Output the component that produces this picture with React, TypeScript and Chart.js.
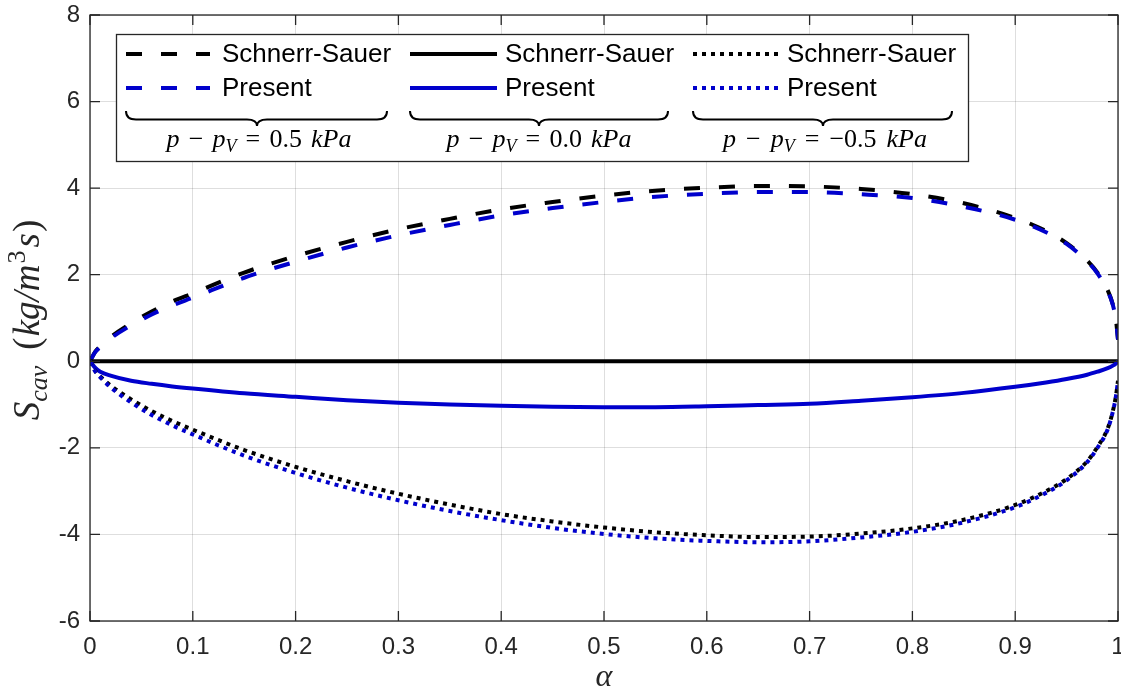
import React, { useEffect, useRef } from "react";
import { Chart, registerables } from "chart.js";

Chart.register(...registerables);

// ---- data ----
const alpha = [0, 0.005, 0.01, 0.02, 0.04, 0.06, 0.08, 0.1, 0.15, 0.2, 0.25, 0.3, 0.35, 0.4, 0.45, 0.5, 0.55, 0.6, 0.65, 0.7, 0.75, 0.8, 0.85, 0.9, 0.93, 0.95, 0.97, 0.98, 0.99, 0.995, 0.998, 1.0];

// p - pV = 0.5 kPa (dashed)
const schnerrSauerPos = [0, 0.22, 0.35, 0.56, 0.88, 1.15, 1.38, 1.57, 2.05, 2.43, 2.76, 3.05, 3.29, 3.51, 3.68, 3.83, 3.94, 4.01, 4.05, 4.04, 3.98, 3.86, 3.65, 3.31, 3.01, 2.73, 2.33, 2.05, 1.64, 1.31, 0.96, 0.5];
const presentPos = [0, 0.21, 0.33, 0.53, 0.83, 1.08, 1.29, 1.47, 1.93, 2.30, 2.63, 2.91, 3.15, 3.37, 3.54, 3.68, 3.80, 3.87, 3.91, 3.91, 3.86, 3.77, 3.57, 3.27, 2.98, 2.71, 2.31, 2.03, 1.62, 1.30, 0.95, 0.5];

// p - pV = 0.0 kPa (solid)
const schnerrSauerZero = [0, 0, 0, 0, 0, 0, 0, 0, 0, 0, 0, 0, 0, 0, 0, 0, 0, 0, 0, 0, 0, 0, 0, 0, 0, 0, 0, 0, 0, 0, 0, 0];
const presentZero = [0, -0.15, -0.24, -0.33, -0.45, -0.52, -0.58, -0.63, -0.74, -0.82, -0.90, -0.96, -1.00, -1.03, -1.05, -1.06, -1.06, -1.04, -1.01, -0.98, -0.91, -0.83, -0.73, -0.59, -0.49, -0.41, -0.31, -0.24, -0.16, -0.10, -0.05, 0];

// p - pV = -0.5 kPa (dotted)
const schnerrSauerNeg = [0, -0.22, -0.35, -0.56, -0.88, -1.15, -1.38, -1.58, -2.05, -2.44, -2.77, -3.06, -3.31, -3.53, -3.70, -3.84, -3.95, -4.02, -4.06, -4.05, -3.98, -3.86, -3.66, -3.32, -3.00, -2.72, -2.31, -1.98, -1.55, -1.15, -0.80, -0.45];
const presentNeg = [0, -0.23, -0.37, -0.60, -0.95, -1.24, -1.48, -1.69, -2.18, -2.58, -2.92, -3.21, -3.46, -3.67, -3.85, -3.99, -4.09, -4.15, -4.18, -4.16, -4.07, -3.94, -3.72, -3.37, -3.04, -2.75, -2.33, -2.00, -1.57, -1.16, -0.81, -0.45];

const xTickValues = [0, 0.1, 0.2, 0.3, 0.4, 0.5, 0.6, 0.7, 0.8, 0.9, 1];
const yTickValues = [-6, -4, -2, 0, 2, 4, 6, 8];

const legendNames = ["Schnerr-Sauer", "Present"];
const groupValues = ["0.5", "0.0", "\u22120.5"];

// ---- styles ----
const BLACK = "#000000";
const BLUE = "#0000cc";
const AXIS = "#262626";
const DASH = [16, 19];
const DOT = [4, 5];
const SANS = '"Liberation Sans", Arial, sans-serif';
const SERIF = '"Liberation Serif", "Times New Roman", serif';

const toPoints = (ys: number[]) => alpha.map((x, i) => ({ x, y: ys[i] }));

function drawMath(ctx: CanvasRenderingContext2D, cx: number, baseline: number, value: string, targetW: number) {
  const it = `italic 26px ${SERIF}`;
  const up = `26px ${SERIF}`;
  const sub = `italic 18px ${SERIF}`;
  const parts = [
    { t: "p", f: it, dy: 0, gap: true },
    { t: "\u2212", f: up, dy: 0, gap: true },
    { t: "p", f: it, dy: 0, gap: false },
    { t: "V", f: sub, dy: 5, gap: true },
    { t: "=", f: up, dy: 0, gap: true },
    { t: value, f: up, dy: 0, gap: true },
    { t: "kPa", f: it, dy: 0, gap: false },
  ];
  let sum = 0;
  const widths = parts.map((p) => {
    ctx.font = p.f;
    const w = ctx.measureText(p.t).width;
    sum += w;
    return w;
  });
  const nGaps = parts.filter((p) => p.gap).length;
  const gap = Math.max(4, (targetW - sum) / nGaps);
  const total = sum + gap * nGaps;
  let x = cx - total / 2;
  ctx.textBaseline = "alphabetic";
  ctx.textAlign = "left";
  parts.forEach((p, i) => {
    ctx.font = p.f;
    ctx.fillText(p.t, x, baseline + p.dy);
    x += widths[i] + (p.gap ? gap : 0);
  });
}

function drawBrace(ctx: CanvasRenderingContext2D, x1: number, x2: number, xc: number, yTop: number, yMid: number, yBot: number) {
  const r = 10;
  ctx.beginPath();
  ctx.moveTo(x1, yTop);
  ctx.quadraticCurveTo(x1, yMid, x1 + r, yMid);
  ctx.lineTo(xc - r, yMid);
  ctx.quadraticCurveTo(xc, yMid, xc, yBot);
  ctx.quadraticCurveTo(xc, yMid, xc + r, yMid);
  ctx.lineTo(x2 - r, yMid);
  ctx.quadraticCurveTo(x2, yMid, x2, yTop);
  ctx.stroke();
}

const decorPlugin = {
  id: "decor",
  afterDatasetsDraw(chart: any) {
    const { ctx, chartArea } = chart;
    const { left, right, top, bottom } = chartArea;
    const xs = chart.scales.x;
    const ys = chart.scales.y;
    ctx.save();
    ctx.strokeStyle = AXIS;
    ctx.lineWidth = 1.3;
    ctx.setLineDash([]);
    ctx.strokeRect(left, top, right - left, bottom - top);
    const tl = 10;
    ctx.beginPath();
    xTickValues.forEach((v) => {
      const px = xs.getPixelForValue(v);
      ctx.moveTo(px, bottom);
      ctx.lineTo(px, bottom - tl);
      ctx.moveTo(px, top);
      ctx.lineTo(px, top + tl);
    });
    yTickValues.forEach((v) => {
      const py = ys.getPixelForValue(v);
      ctx.moveTo(left, py);
      ctx.lineTo(left + tl, py);
      ctx.moveTo(right, py);
      ctx.lineTo(right - tl, py);
    });
    ctx.stroke();
    ctx.restore();
  },
  afterDraw(chart: any) {
    const { ctx } = chart;
    ctx.save();
    // legend box
    const bx = 116, by = 34, bw = 852, bh = 127;
    ctx.fillStyle = "#ffffff";
    ctx.fillRect(bx, by, bw, bh);
    ctx.strokeStyle = AXIS;
    ctx.lineWidth = 1.3;
    ctx.setLineDash([]);
    ctx.strokeRect(bx + 0.5, by + 0.5, bw, bh);

    const cols = [
      { x1: 126, x2: 210, tx: 222, dash: DASH, b1: 126, b2: 387, bc: 257, lc: 259, lw: 185 },
      { x1: 410, x2: 497, tx: 505, dash: [] as number[], b1: 410, b2: 668, bc: 539, lc: 539, lw: 185 },
      { x1: 693, x2: 780, tx: 787, dash: DOT, b1: 693, b2: 952, bc: 823, lc: 825, lw: 204 },
    ];
    const rowsY = [54, 88];
    const rowColors = [BLACK, BLUE];
    cols.forEach((c, ci) => {
      rowsY.forEach((ry, ri) => {
        ctx.strokeStyle = rowColors[ri];
        ctx.lineWidth = 4;
        ctx.lineCap = "butt";
        ctx.setLineDash(c.dash);
        ctx.beginPath();
        ctx.moveTo(c.x1, ry);
        ctx.lineTo(c.x2, ry);
        ctx.stroke();
        ctx.setLineDash([]);
        ctx.fillStyle = "#000000";
        ctx.font = `26px ${SANS}`;
        ctx.textBaseline = "middle";
        ctx.textAlign = "left";
        ctx.fillText(legendNames[ri], c.tx, ry + 1);
      });
      ctx.strokeStyle = "#000000";
      ctx.lineWidth = 2;
      ctx.setLineDash([]);
      drawBrace(ctx, c.b1, c.b2, c.bc, 111, 119.5, 126);
      ctx.fillStyle = "#000000";
      drawMath(ctx, c.lc, 147, groupValues[ci], c.lw);
    });

    // x-axis title
    ctx.fillStyle = AXIS;
    ctx.font = `italic 32px ${SERIF}`;
    ctx.textAlign = "center";
    ctx.textBaseline = "middle";
    ctx.fillText("\u03b1", 604, 678);

    // y-axis title (rotated)
    ctx.save();
    ctx.translate(39, 320);
    ctx.rotate(-Math.PI / 2);
    const big = 37, small = 26;
    const parts = [
      { t: "S", f: `italic ${big}px ${SERIF}`, dy: 0, gapAfter: 0 },
      { t: "cav", f: `italic ${small}px ${SERIF}`, dy: 8, gapAfter: 16 },
      { t: "(", f: `${big}px ${SERIF}`, dy: 0, gapAfter: 1 },
      { t: "kg/m", f: `italic ${big}px ${SERIF}`, dy: 0, gapAfter: 1 },
      { t: "3", f: `${small}px ${SERIF}`, dy: -14, gapAfter: 3 },
      { t: "s", f: `italic ${big}px ${SERIF}`, dy: 0, gapAfter: 1 },
      { t: ")", f: `${big}px ${SERIF}`, dy: 0, gapAfter: 0 },
    ];
    let total = 0;
    const ws = parts.map((p) => {
      ctx.font = p.f;
      const w = ctx.measureText(p.t).width;
      total += w + p.gapAfter;
      return w;
    });
    let x = -total / 2;
    ctx.textAlign = "left";
    ctx.textBaseline = "alphabetic";
    parts.forEach((p, i) => {
      ctx.font = p.f;
      ctx.fillText(p.t, x, p.dy);
      x += ws[i] + p.gapAfter;
    });
    ctx.restore();

    ctx.restore();
  },
};

export default function App() {
  const ref = useRef<HTMLCanvasElement>(null);
  useEffect(() => {
    const series = [
      { label: "Schnerr-Sauer 0.5 kPa", data: schnerrSauerPos, color: BLACK, dash: DASH },
      { label: "Present 0.5 kPa", data: presentPos, color: BLUE, dash: DASH },
      { label: "Schnerr-Sauer 0.0 kPa", data: schnerrSauerZero, color: BLACK, dash: [] as number[] },
      { label: "Present 0.0 kPa", data: presentZero, color: BLUE, dash: [] as number[] },
      { label: "Schnerr-Sauer -0.5 kPa", data: schnerrSauerNeg, color: BLACK, dash: DOT },
      { label: "Present -0.5 kPa", data: presentNeg, color: BLUE, dash: DOT },
    ];
    const chart = new Chart(ref.current as HTMLCanvasElement, {
      type: "line",
      data: {
        datasets: series.map((s, i) => ({
          label: s.label,
          data: toPoints(s.data),
          borderColor: s.color,
          backgroundColor: s.color,
          borderWidth: 4,
          borderDash: s.dash,
          borderCapStyle: "butt",
          borderJoinStyle: "round",
          pointRadius: 0,
          fill: false,
          cubicInterpolationMode: "monotone",
          order: series.length - i,
        })),
      },
      options: {
        responsive: false,
        animation: false,
        devicePixelRatio: 1,
        layout: { padding: { top: 15, right: 3, left: 0, bottom: 0 } },
        plugins: { legend: { display: false }, tooltip: { enabled: false } },
        scales: {
          x: {
            type: "linear",
            min: 0,
            max: 1,
            afterBuildTicks: (s: any) => {
              s.ticks = xTickValues.map((v) => ({ value: v }));
            },
            afterFit: (s: any) => {
              s.height = 74;
              s.paddingLeft = 0;
              s.paddingRight = 0;
            },
            ticks: {
              autoSkip: false,
              maxRotation: 0,
              padding: 12,
              color: AXIS,
              font: { family: SANS, size: 24 },
              callback: (v: any) => String(Math.round(Number(v) * 10) / 10),
            },
            grid: { color: "rgba(0,0,0,0.13)", lineWidth: 1, drawTicks: false },
            border: { display: false },
          },
          y: {
            type: "linear",
            min: -6,
            max: 8,
            afterBuildTicks: (s: any) => {
              s.ticks = yTickValues.map((v) => ({ value: v }));
            },
            afterFit: (s: any) => {
              s.width = 90;
              s.paddingTop = 0;
              s.paddingBottom = 0;
            },
            ticks: {
              autoSkip: false,
              padding: 10,
              color: AXIS,
              font: { family: SANS, size: 24 },
              callback: (v: any) => String(v),
            },
            grid: { color: "rgba(0,0,0,0.13)", lineWidth: 1, drawTicks: false },
            border: { display: false },
          },
        },
      } as any,
      plugins: [decorPlugin],
    });
    return () => chart.destroy();
  }, []);
  return (
    <div style={{ position: "fixed", left: 0, top: 0, width: 1121, height: 695, background: "#ffffff" }}>
      <canvas ref={ref} width={1121} height={695} style={{ width: 1121, height: 695, display: "block" }} />
    </div>
  );
}
